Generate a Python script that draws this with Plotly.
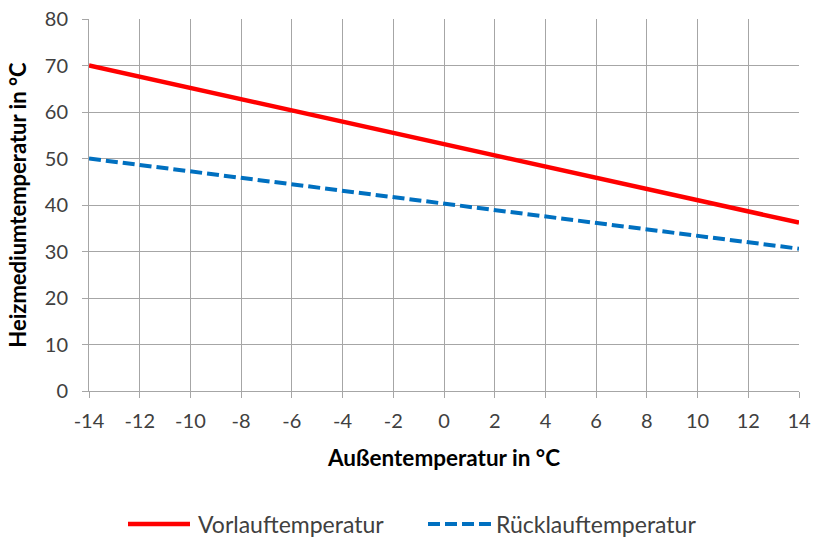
import plotly.graph_objects as go

x_temp = [-14, -12, -10, -8, -6, -4, -2, 0, 2, 4, 6, 8, 10, 12, 14]
vorlauf = [70, 67.6, 65.2, 62.8, 60.4, 58.0, 55.5, 53.0, 50.7, 48.3, 45.9, 43.5, 41.1, 38.6, 36.2]
ruecklauf = [50, 48.6, 47.2, 45.9, 44.5, 43.1, 41.6, 40.2, 38.9, 37.5, 36.0, 34.6, 33.3, 32.0, 30.6]
y_ticks = [0, 10, 20, 30, 40, 50, 60, 70, 80]
series_names = ["Vorlauftemperatur", "Rücklauftemperatur"]

FONT = "Lato"
GRID = "#a6a6a6"
TXT = "#404040"
RED = "#ff0000"
BLUE = "#0070c0"

W, H = 817, 538
L, R, T, B = 89, 18, 19, 147
PW, PH = W - L - R, H - T - B

def px_x(p):
    return (p - L) / PW

def px_y(p):
    return (H - B - p) / PH

fig = go.Figure()
fig.add_trace(go.Scatter(x=x_temp, y=vorlauf, mode="lines", name=series_names[0],
                         line=dict(color=RED, width=4.5), showlegend=False))
fig.add_trace(go.Scatter(x=x_temp, y=ruecklauf, mode="lines", name=series_names[1],
                         line=dict(color=BLUE, width=4, dash="12px,5px"), showlegend=False))

# custom legend (long line samples as in the reference)
leg_y = px_y(524)
fig.add_shape(type="line", xref="paper", yref="paper", x0=px_x(128), x1=px_x(190), y0=leg_y, y1=leg_y,
              line=dict(color=RED, width=4.5))
fig.add_shape(type="line", xref="paper", yref="paper", x0=px_x(428), x1=px_x(491), y0=leg_y, y1=leg_y,
              line=dict(color=BLUE, width=4, dash="12px,5px"))
fig.add_annotation(xref="paper", yref="paper", x=px_x(196), y=leg_y, text=series_names[0],
                   showarrow=False, xanchor="left", yanchor="middle",
                   font=dict(family=FONT, size=23, color=TXT))
fig.add_annotation(xref="paper", yref="paper", x=px_x(494), y=leg_y, text=series_names[1],
                   showarrow=False, xanchor="left", yanchor="middle",
                   font=dict(family=FONT, size=23, color=TXT))

fig.update_layout(
    width=W, height=H,
    margin=dict(l=L, r=R, t=T, b=B, autoexpand=False),
    paper_bgcolor="white", plot_bgcolor="white",
    font=dict(family=FONT, size=20, color=TXT),
    showlegend=False,
    xaxis=dict(range=[-14, 14], tickmode="array", tickvals=x_temp,
               ticktext=[str(v) for v in x_temp], automargin=False,
               showgrid=True, gridcolor=GRID, gridwidth=1,
               showline=True, linecolor=GRID, linewidth=1,
               ticks="outside", ticklen=6, tickcolor=GRID, zeroline=False,
               ticklabelstandoff=6, tickfont=dict(size=20, color=TXT),
               title=dict(text="<b>Außentemperatur in °C</b>",
                          font=dict(family=FONT, size=22.5, color="#000000"), standoff=19)),
    yaxis=dict(range=[0, 80], tickmode="array", tickvals=y_ticks, automargin=False,
               showgrid=True, gridcolor=GRID, gridwidth=1,
               showline=True, linecolor=GRID, linewidth=1,
               ticks="outside", ticklen=6, tickcolor=GRID, zeroline=False,
               ticklabelstandoff=10, tickfont=dict(size=20, color=TXT),
               title=dict(text="<b>Heizmediumtemperatur in °C</b>",
                          font=dict(family=FONT, size=22, color="#000000"), standoff=12)),
)

fig.write_html("out.html")
